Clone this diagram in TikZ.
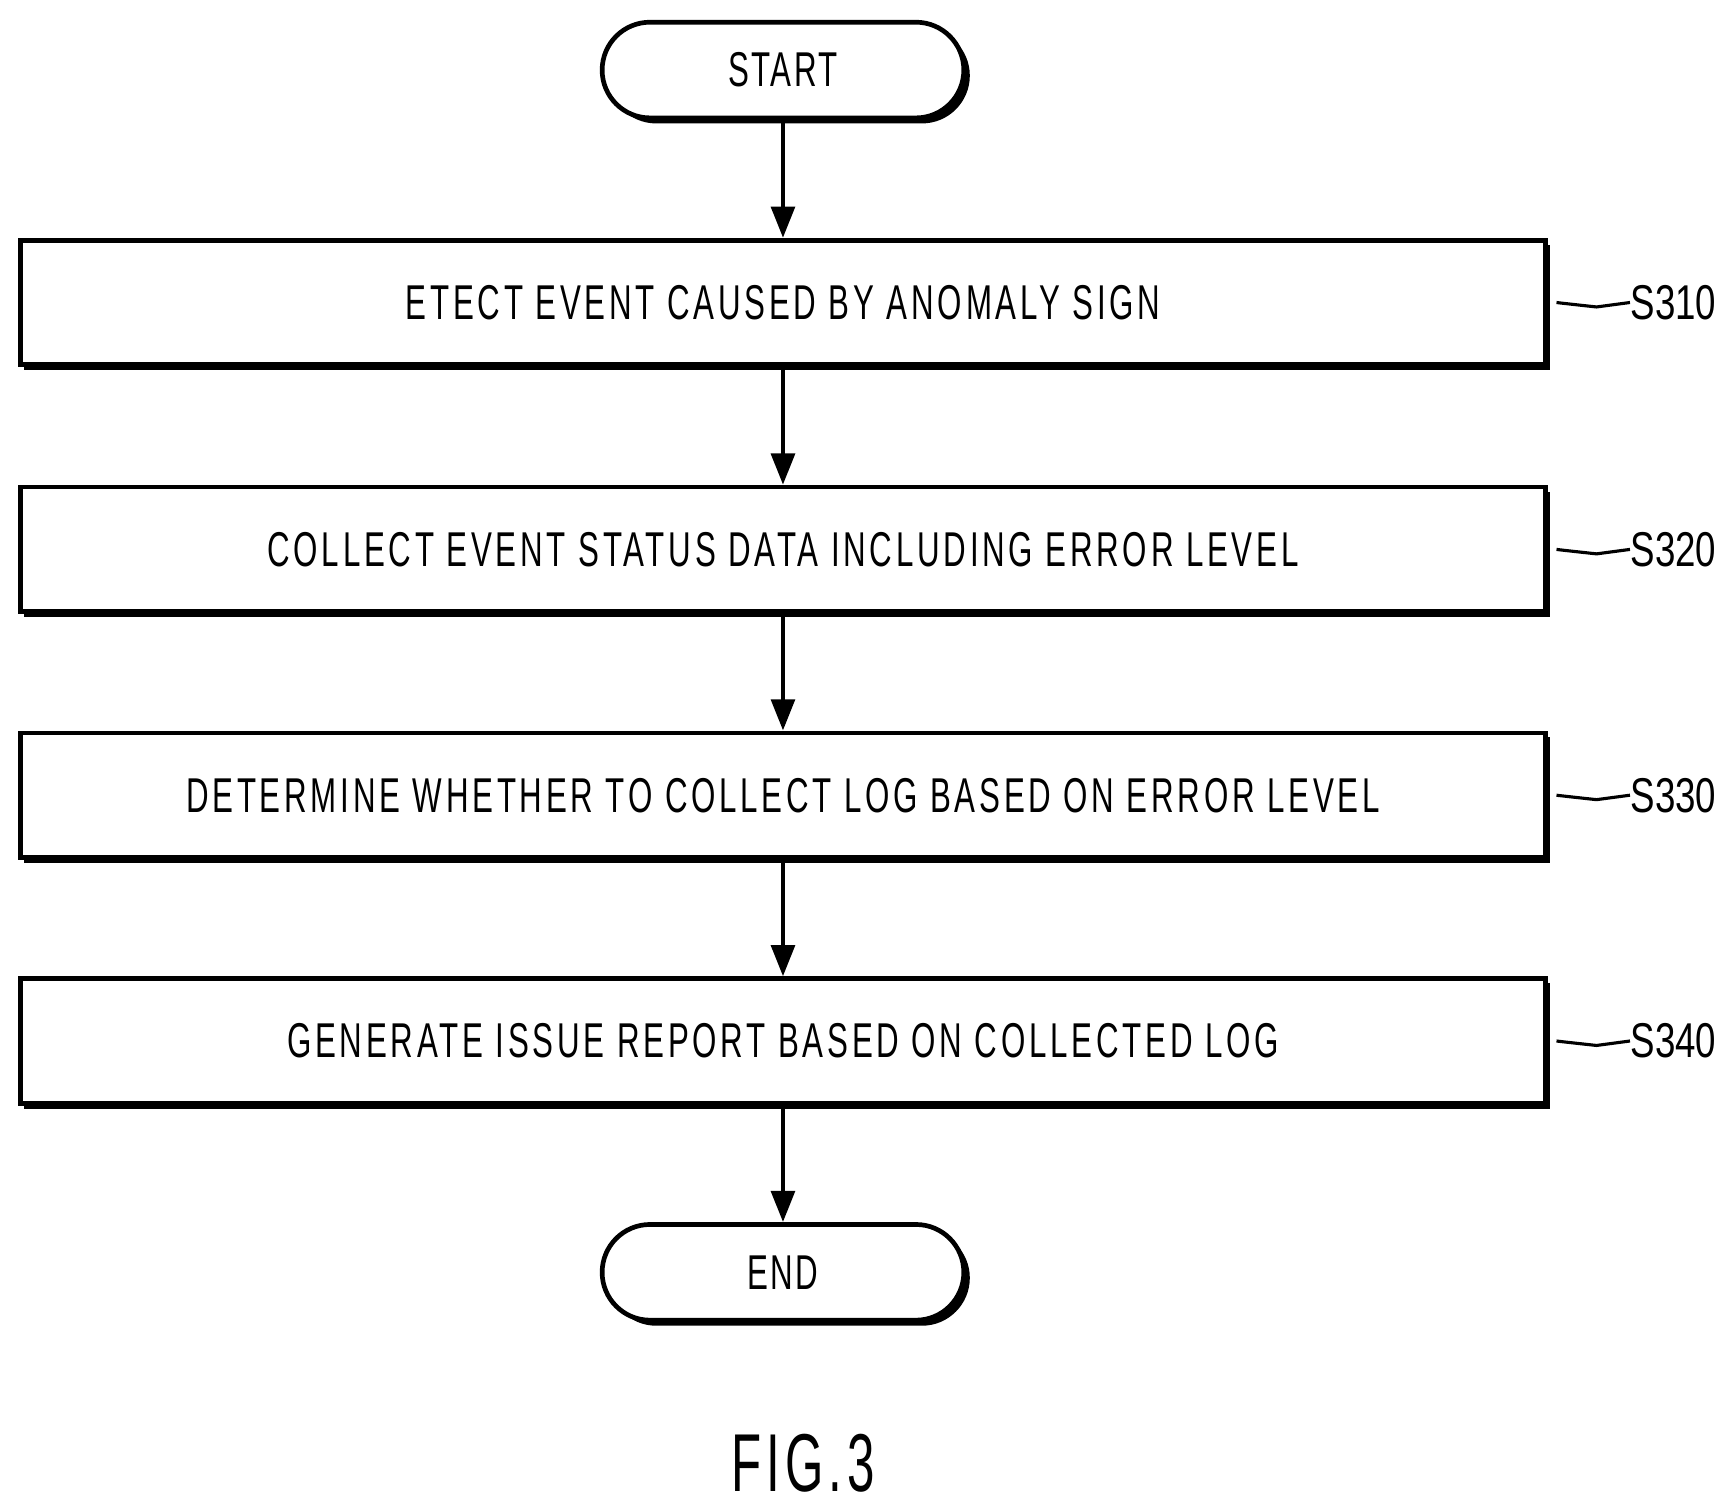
\documentclass[tikz,border=0pt]{standalone}
\usepackage{fontspec}
\setmainfont{Liberation Sans}
\usetikzlibrary{arrows.meta,positioning}
\newcommand*{\narrow}[1]{\scalebox{0.64}[1]{#1}}
\tikzset{
  stepbox/.style={draw,line width=1.2pt,fill=white,minimum width=13.7cm,minimum height=1.12cm,
    font=\fontsize{12.5}{14}\selectfont\addfontfeature{LetterSpace=12}},
  termbox/.style={draw,line width=1.2pt,fill=white,rounded corners=0.43cm,minimum width=3.25cm,minimum height=0.86cm,
    font=\fontsize{12.5}{14}\selectfont\addfontfeature{LetterSpace=8}},
  flow/.style={-{Triangle[length=8pt,width=6pt]},line width=1.2pt},
  steplbl/.style={font=\fontsize{12.5}{14}\selectfont,anchor=west,inner sep=0pt}
}
\begin{document}
\begin{tikzpicture}[x=0.01cm,y=-0.01cm]
  \useasboundingbox (0,0) rectangle (1560,1352);
  % terminals
  \fill[black,rounded corners=0.43cm] (547,25) rectangle (872,111);
  \node[termbox] (start) at (704,63) {\narrow{START}};
  \fill[black,rounded corners=0.43cm] (547,1106) rectangle (872,1192);
  \node[termbox] (end) at (704,1144) {\narrow{END}};
  % steps
  \foreach \yy in {272,494,715,936}
    \fill[black] (22,\yy-52) rectangle (1394,\yy+61);
  \node[stepbox] (s1) at (704,272) {\narrow{ETECT EVENT CAUSED BY ANOMALY SIGN}};
  \node[stepbox] (s2) at (704,494) {\narrow{COLLECT EVENT STATUS DATA INCLUDING ERROR LEVEL}};
  \node[stepbox] (s3) at (704,715) {\narrow{DETERMINE WHETHER TO COLLECT LOG BASED ON ERROR LEVEL}};
  \node[stepbox] (s4) at (704,936) {\narrow{GENERATE ISSUE REPORT BASED ON COLLECTED LOG}};
  % arrows
  \draw[flow] (start) -- (s1);
  \draw[flow] (s1) -- (s2);
  \draw[flow] (s2) -- (s3);
  \draw[flow] (s3) -- (s4);
  \draw[flow] (s4) -- (end);
  % step labels
  \foreach \nm/\lbl in {s1/S310,s2/S320,s3/S330,s4/S340}{
    \node[steplbl] (l\nm) at ([xshift=0.74cm]\nm.east) {\scalebox{0.75}[1]{\lbl}};
    \draw[line width=0.8pt] ([xshift=0.08cm]\nm.east) .. controls +(0.2,0.12) and +(-0.25,0) .. ([xshift=-0.3cm,yshift=-0.04cm]l\nm.west) -- (l\nm.west);
  }
  \node[font=\fontsize{21}{24}\selectfont\addfontfeature{LetterSpace=10}] (fig) at (722,1316) {\scalebox{0.6}[1]{FIG.3}};
\end{tikzpicture}
\end{document}
